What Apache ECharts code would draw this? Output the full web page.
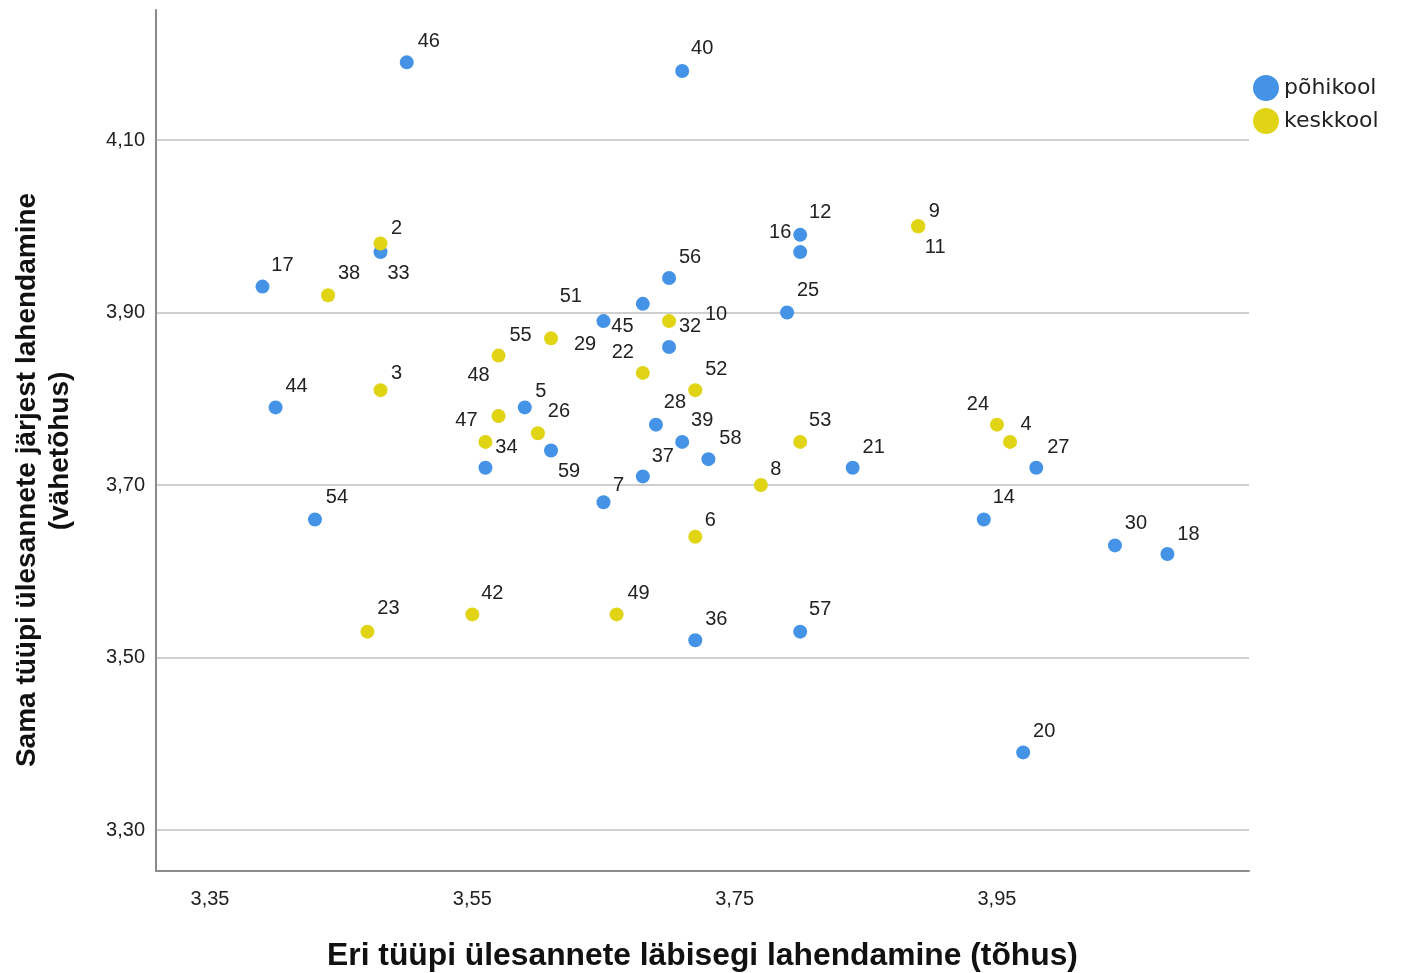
<!DOCTYPE html>
<html>
<head>
<meta charset="utf-8">
<title>Hajuvusdiagramm</title>
<script src="https://cdn.jsdelivr.net/npm/echarts@6/dist/echarts.min.js"></script>
<style>
  html, body { margin: 0; padding: 0; background: #fff; }
  #chart { width: 1403px; height: 973px; }
</style>
</head>
<body>
<div id="chart"></div>
<script type="text/javascript">
// põhikool
var pohiIds = [46, 40, 33, 17, 12, 16, 56, 25, 51, 45, 32, 44, 5, 28, 39, 59, 58, 34, 21, 37, 27, 7, 54, 14, 30, 18, 36, 57, 20];
var pohiX = [3.50, 3.71, 3.48, 3.39, 3.80, 3.80, 3.70, 3.79, 3.68, 3.65, 3.70, 3.40, 3.59, 3.69, 3.71, 3.61, 3.73, 3.56, 3.84, 3.68, 3.98, 3.65, 3.43, 3.94, 4.04, 4.08, 3.72, 3.80, 3.97];
var pohiY = [4.19, 4.18, 3.97, 3.93, 3.99, 3.97, 3.94, 3.90, 3.91, 3.89, 3.86, 3.79, 3.79, 3.77, 3.75, 3.74, 3.73, 3.72, 3.72, 3.71, 3.72, 3.68, 3.66, 3.66, 3.63, 3.62, 3.52, 3.53, 3.39];

// keskkool
var keskIds = [2, 38, 9, 11, 10, 29, 55, 22, 3, 52, 48, 47, 26, 53, 24, 4, 8, 6, 23, 42, 49];
var keskX = [3.48, 3.44, 3.89, 3.89, 3.70, 3.61, 3.57, 3.68, 3.48, 3.72, 3.57, 3.56, 3.60, 3.80, 3.95, 3.96, 3.77, 3.72, 3.47, 3.55, 3.66];
var keskY = [3.98, 3.92, 4.00, 4.00, 3.89, 3.87, 3.85, 3.83, 3.81, 3.81, 3.78, 3.75, 3.76, 3.75, 3.77, 3.75, 3.70, 3.64, 3.53, 3.55, 3.55];

var xTicks = [3.35, 3.55, 3.75, 3.95];
var yTicks = [3.30, 3.50, 3.70, 3.90, 4.10];

// label placement next to each point (px, label centre relative to point)
var labelOffsets = {
  46: [22, -21], 40: [20, -22], 2: [16, -15], 33: [18, 21], 17: [20, -21], 38: [21, -22],
  12: [20, -22], 16: [-20, -20], 9: [16, -15], 11: [17, 21], 56: [21, -21], 25: [21, -22],
  51: [-72, -7], 45: [19, 5], 10: [47, -7], 32: [21, -21], 29: [34, 6], 55: [22, -20],
  48: [-20, -41], 22: [-20, -20], 3: [16, -17], 52: [21, -21], 44: [21, -21], 5: [16, -16],
  26: [21, -22], 47: [-19, -21], 34: [21, -20], 59: [18, 21], 28: [19, -22], 39: [20, -21],
  58: [22, -21], 37: [20, -20], 7: [15, -17], 53: [20, -21], 21: [21, -20], 8: [15, -16],
  24: [-19, -20], 4: [16, -17], 27: [22, -20], 54: [22, -22], 14: [20, -22], 6: [15, -16],
  30: [21, -22], 18: [21, -20], 23: [21, -23], 42: [20, -21], 49: [22, -21], 36: [21, -21],
  57: [20, -22], 20: [21, -21]
};

function buildPoints(ids, xs, ys) {
  return ids.map(function (id, i) {
    return {
      name: String(id),
      value: [xs[i], ys[i]],
      label: { offset: labelOffsets[id] || [20, -20] }
    };
  });
}

function comma(v) {
  return v.toFixed(2).replace('.', ',');
}

var pointLabel = {
  show: true,
  position: 'inside',
  formatter: '{b}',
  color: '#222',
  fontFamily: 'Liberation Sans',
  fontSize: 20
};

var chart = echarts.init(document.getElementById('chart'));

var option = {
  animation: false,
  backgroundColor: '#fff',
  grid: { left: 156, right: 154, top: 10, bottom: 102, containLabel: false, outerBoundsMode: 'none' },
  legend: {
    orient: 'vertical',
    left: 1248,
    top: 70,
    itemWidth: 26,
    itemHeight: 26,
    itemGap: 7,
    icon: 'circle',
    textStyle: { fontFamily: 'DejaVu Sans', fontSize: 22, color: '#222' },
    data: ['põhikool', 'keskkool']
  },
  xAxis: {
    type: 'value',
    min: 3.3088,
    max: 4.1422,
    name: 'Eri tüüpi ülesannete läbisegi lahendamine (tõhus)',
    nameLocation: 'middle',
    nameGap: 85,
    nameTextStyle: {
      fontFamily: 'Liberation Sans',
      fontWeight: 'bold',
      fontSize: 31.8,
      color: '#111',
      verticalAlign: 'middle'
    },
    axisLine: { lineStyle: { color: '#8c8c8c', width: 2 } },
    axisTick: { show: false, customValues: xTicks },
    axisLabel: {
      customValues: xTicks,
      margin: 18,
      formatter: comma,
      fontFamily: 'Liberation Sans',
      fontSize: 20,
      color: '#222'
    },
    splitLine: { show: false }
  },
  yAxis: {
    type: 'value',
    min: 3.2525,
    max: 4.2507,
    axisLine: { show: true, lineStyle: { color: '#8c8c8c', width: 2 } },
    axisTick: { show: false, customValues: yTicks },
    axisLabel: {
      customValues: yTicks,
      margin: 11,
      formatter: comma,
      fontFamily: 'Liberation Sans',
      fontSize: 20,
      color: '#222'
    },
    splitLine: { show: true, lineStyle: { color: '#cfcfcf', width: 2 } }
  },
  graphic: [
    {
      type: 'text',
      x: 27,
      y: 480,
      rotation: Math.PI / 2,
      style: {
        text: 'Sama tüüpi ülesannete järjest lahendamine',
        font: 'bold 28px "Liberation Sans"',
        fill: '#111',
        align: 'center',
        verticalAlign: 'middle'
      }
    },
    {
      type: 'text',
      x: 60,
      y: 451,
      rotation: Math.PI / 2,
      style: {
        text: '(vähetõhus)',
        font: 'bold 28px "Liberation Sans"',
        fill: '#111',
        align: 'center',
        verticalAlign: 'middle'
      }
    }
  ],
  series: [
    {
      name: 'põhikool',
      type: 'scatter',
      symbolSize: 14,
      itemStyle: { color: '#4593e6', opacity: 1 },
      label: pointLabel,
      data: buildPoints(pohiIds, pohiX, pohiY)
    },
    {
      name: 'keskkool',
      type: 'scatter',
      symbolSize: 14,
      itemStyle: { color: '#e0d414', opacity: 1 },
      label: pointLabel,
      data: buildPoints(keskIds, keskX, keskY)
    }
  ]
};

chart.setOption(option);
</script>
</body>
</html>
